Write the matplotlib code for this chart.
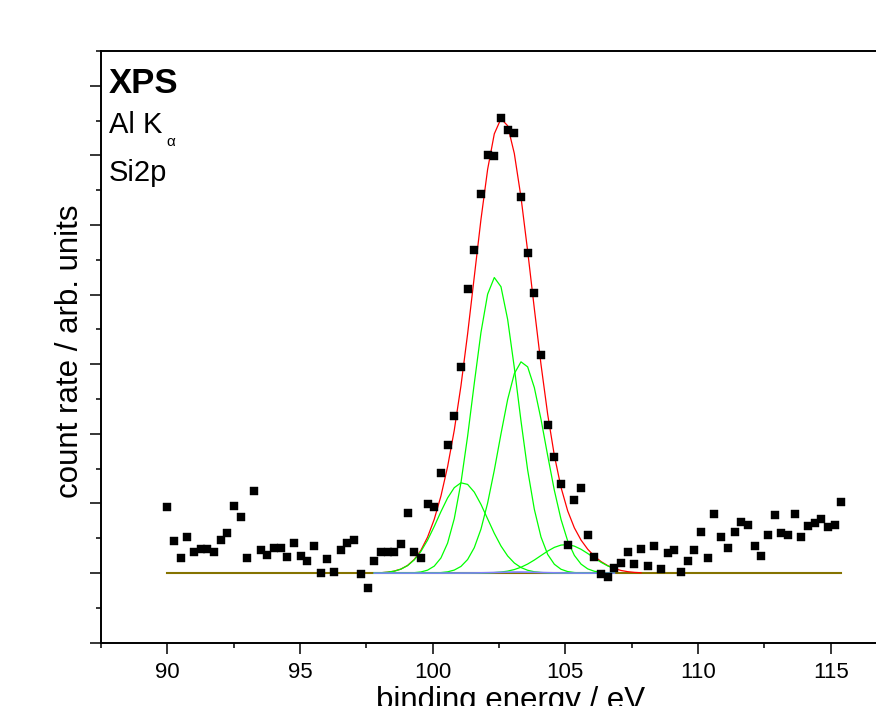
import numpy as np
import matplotlib
matplotlib.use("Agg")
import matplotlib.pyplot as plt
from matplotlib.ticker import MultipleLocator

plt.rcParams['font.family'] = ['Liberation Sans', 'DejaVu Sans']

# ---------------- data ----------------
energy = np.linspace(90.0, 115.4, 102)   # binding energy / eV (evenly sampled)
counts = [
    0.950, 0.466, 0.222, 0.518, 0.302, 0.345, 0.345, 0.298, 0.481, 0.581,
    0.960, 0.812, 0.222, 1.176, 0.327, 0.265, 0.360, 0.360, 0.230, 0.427,
    0.240, 0.178, 0.388, 0.006, 0.197, 0.010, 0.327, 0.437, 0.481, -0.019,
    -0.210, 0.173, 0.308, 0.308, 0.308, 0.417, 0.863, 0.298, 0.222, 0.988,
    0.950, 1.439, 1.842, 2.255, 2.964, 4.078, 4.643, 5.439, 6.006, 5.996,
    6.542, 6.370, 6.322, 5.401, 4.596, 4.029, 3.128, 2.121, 1.669, 1.276,
    0.403, 1.046, 1.229, 0.542, 0.226, -0.009, -0.058, 0.068, 0.144, 0.302,
    0.125, 0.345, 0.106, 0.388, 0.063, 0.288, 0.331, 0.010, 0.173, 0.327,
    0.596, 0.212, 0.849, 0.514, 0.365, 0.586, 0.734, 0.686, 0.388, 0.250,
    0.553, 0.835, 0.581, 0.542, 0.849, 0.514, 0.682, 0.725, 0.777, 0.662,
    0.686, 1.022,
]

# fitted Gaussian components (green): centre / eV, height, sigma / eV
comp_centers = [101.13, 102.36, 103.38, 105.02]
comp_heights = [1.30, 4.25, 3.04, 0.41]
comp_sigmas = [0.93, 0.84, 0.88, 0.95]
# tiny extra component (blue)
blue_center, blue_height, blue_sigma = 103.2, 0.015, 0.8

fit_lo, fit_hi_total, fit_hi_comp = 97.75, 107.9, 106.9
base_lo, base_hi = 90.0, 115.4
baseline_level = 0.0


def gauss(x, c, h, s):
    return h * np.exp(-(x - c) ** 2 / (2 * s ** 2))


# ---------------- figure ----------------
W, H = 876, 706
fig = plt.figure(figsize=(W / 100, H / 100), dpi=100)
ax = fig.add_axes([101 / W, (H - 642.7) / H, (897 - 101) / W, (642.7 - 51) / H])
ax.set_xlim(87.5, 117.5)
ax.set_ylim(-1.0, 7.5)

# baseline
ax.plot([base_lo, base_hi], [baseline_level, baseline_level], color='#857300',
        lw=1.5, zorder=2)

m_tot = (energy >= fit_lo) & (energy <= fit_hi_total)
m_cmp = (energy >= fit_lo) & (energy <= fit_hi_comp)
xt = energy[m_tot]
xc = energy[m_cmp]

total = np.zeros_like(xt)
for c, h, s in zip(comp_centers, comp_heights, comp_sigmas):
    total += gauss(xt, c, h, s)
total += gauss(xt, blue_center, blue_height, blue_sigma)
ax.plot(xt, total + baseline_level, color='#ff0000', lw=0.9, zorder=3)

for c, h, s in zip(comp_centers, comp_heights, comp_sigmas):
    ax.plot(xc, gauss(xc, c, h, s) + baseline_level, color='#00ff00', lw=0.9, zorder=4)
ax.plot(xc, gauss(xc, blue_center, blue_height, blue_sigma) + baseline_level,
        color='#8080ff', lw=1.2, zorder=5)

ax.plot(energy, counts, ls='none', marker='s', ms=5.4, color='black',
        mec='black', mew=0.3, zorder=6)

# axes styling
for sp in ax.spines.values():
    sp.set_linewidth(1.4)
ax.xaxis.set_major_locator(MultipleLocator(5))
ax.xaxis.set_minor_locator(MultipleLocator(2.5))
ax.yaxis.set_major_locator(MultipleLocator(1))
ax.yaxis.set_minor_locator(MultipleLocator(0.5))
ax.tick_params(which='both', direction='out', top=False, right=False, width=1.1)
ax.tick_params(which='major', length=8, pad=6)
ax.tick_params(which='minor', length=3.6)
ax.tick_params(axis='x', labelsize=16)
ax.tick_params(axis='y', labelleft=False)

# labels (the x label is cut by the lower figure edge, as in the reference)
fig.text(511 / W, (H - 709) / H, 'binding energy / eV', ha='center',
         va='baseline', fontsize=22.5)
fig.text(70 / W, 1 - 351 / H, 'count rate / arb. units', rotation=90,
         ha='center', va='center', fontsize=22.5)

fig.text(109 / W, 1 - 93.3 / H, 'XPS', fontsize=25, fontweight='bold',
         ha='left', va='baseline')
fig.text(109 / W, 1 - 133.3 / H, 'Al K', fontsize=21, ha='left', va='baseline')
fig.text(166.5 / W, 1 - 146 / H, 'α', fontsize=11, ha='left', va='baseline')
fig.text(109 / W, 1 - 180.7 / H, 'Si2p', fontsize=21, ha='left', va='baseline')

fig.savefig('out.png', dpi=100)
